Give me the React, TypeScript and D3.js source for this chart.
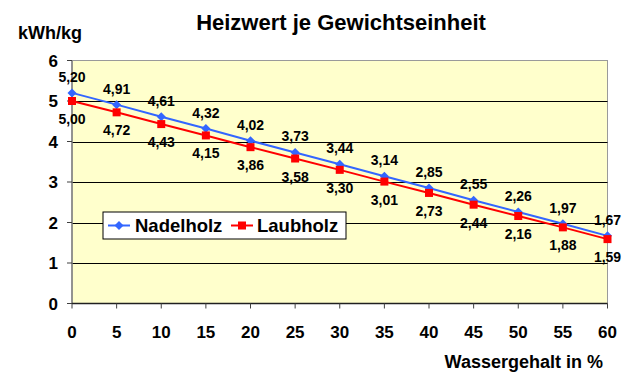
import React from 'react';
import * as d3 from 'd3';

const wasser = [0, 5, 10, 15, 20, 25, 30, 35, 40, 45, 50, 55, 60];
const nadelholz = [5.2, 4.91, 4.61, 4.32, 4.02, 3.73, 3.44, 3.14, 2.85, 2.55, 2.26, 1.97, 1.67];
const laubholz = [5.0, 4.72, 4.43, 4.15, 3.86, 3.58, 3.3, 3.01, 2.73, 2.44, 2.16, 1.88, 1.59];
const yTicks = [0, 1, 2, 3, 4, 5, 6];

const W = 631;
const H = 392;
const margin = { left: 72, right: 23.5, top: 60.5, bottom: 88.5 };
const font = 'Arial, "Liberation Sans", sans-serif';

const fmt = (v: number) => v.toFixed(2).replace('.', ',');

export default function App() {
  const x = d3.scaleLinear().domain([0, 60]).range([margin.left, W - margin.right]);
  const y = d3.scaleLinear().domain([0, 6]).range([H - margin.bottom, margin.top]);

  const line = d3.line<number>()
    .x((_, i) => x(wasser[i]))
    .y(d => y(d));

  const plotW = x(60) - x(0);
  const plotH = y(0) - y(6);

  return (
    <svg width={W} height={H} style={{ position: 'absolute', left: 0, top: 0, background: '#fff' }}>
      <rect x={x(0)} y={y(6)} width={plotW} height={plotH} fill="#FFFFCC" stroke="#9a9a9a" strokeWidth={1} />
      {yTicks.filter(t => t > 0 && t < 6).map(t => (
        <line key={t} x1={x(0)} x2={x(60)} y1={Math.round(y(t)) + 0.5} y2={Math.round(y(t)) + 0.5} stroke="#000" strokeWidth={1} />
      ))}
      {/* axes */}
      <line x1={x(0)} x2={x(0)} y1={y(6)} y2={y(0)} stroke="#808080" strokeWidth={1.5} />
      <line x1={x(0)} x2={x(60)} y1={y(0)} y2={y(0)} stroke="#202020" strokeWidth={1.5} />
      {yTicks.map(t => (
        <g key={t}>
          <line x1={x(0) - 5} x2={x(0)} y1={y(t)} y2={y(t)} stroke="#404040" />
          <text x={x(0) - 14} y={y(t) + 6} textAnchor="end" fontFamily={font} fontWeight="bold" fontSize={17} fill="#000">{t}</text>
        </g>
      ))}
      {wasser.map(w => (
        <g key={w}>
          <line x1={x(w)} x2={x(w)} y1={y(0)} y2={y(0) + 5} stroke="#404040" />
          <text x={x(w)} y={y(0) + 34} textAnchor="middle" fontFamily={font} fontWeight="bold" fontSize={17} fill="#000">{w}</text>
        </g>
      ))}

      {/* series */}
      <path d={line(nadelholz) || ''} fill="none" stroke="#3366FF" strokeWidth={2} />
      <path d={line(laubholz) || ''} fill="none" stroke="#FF0000" strokeWidth={2} />
      {nadelholz.map((v, i) => (
        <path key={'n' + i} d={`M${x(wasser[i])},${y(v) - 4.5}l4.5,4.5l-4.5,4.5l-4.5,-4.5z`} fill="#3366FF" />
      ))}
      {laubholz.map((v, i) => (
        <rect key={'l' + i} x={x(wasser[i]) - 4} y={y(v) - 4} width={8} height={8} fill="#FF0000" />
      ))}
      {nadelholz.map((v, i) => (
        <text key={'nt' + i} x={x(wasser[i])} y={y(v) - 11} textAnchor="middle" fontFamily={font} fontWeight="bold" fontSize={14} fill="#000">{fmt(v)}</text>
      ))}
      {laubholz.map((v, i) => (
        <text key={'lt' + i} x={x(wasser[i])} y={y(v) + 23} textAnchor="middle" fontFamily={font} fontWeight="bold" fontSize={14} fill="#000">{fmt(v)}</text>
      ))}

      {/* legend */}
      <rect x={103} y={212} width={243} height={27} fill="#fff" stroke="#000" strokeWidth={1} />
      <line x1={108} x2={130} y1={225.5} y2={225.5} stroke="#3366FF" strokeWidth={2} />
      <path d="M119,221l4.5,4.5l-4.5,4.5l-4.5,-4.5z" fill="#3366FF" />
      <text x={135} y={232} fontFamily={font} fontWeight="bold" fontSize={18.5} fill="#000">Nadelholz</text>
      <line x1={231} x2={253} y1={225.5} y2={225.5} stroke="#FF0000" strokeWidth={2} />
      <rect x={238} y={221.5} width={8} height={8} fill="#FF0000" />
      <text x={257} y={232} fontFamily={font} fontWeight="bold" fontSize={18.5} fill="#000">Laubholz</text>

      {/* titles */}
      <text x={341} y={30} textAnchor="middle" fontFamily={font} fontWeight="bold" fontSize={22} fill="#000">Heizwert je Gewichtseinheit</text>
      <text x={18} y={39} fontFamily={font} fontWeight="bold" fontSize={18} fill="#000">kWh/kg</text>
      <text x={603} y={368} textAnchor="end" fontFamily={font} fontWeight="bold" fontSize={18} fill="#000">Wassergehalt in %</text>
    </svg>
  );
}
